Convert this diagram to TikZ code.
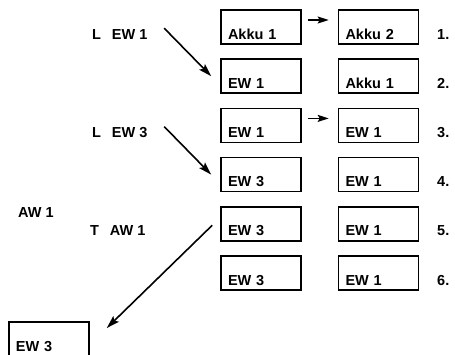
\documentclass[tikz,border=0pt]{standalone}
\usepackage{fontspec}
\setmainfont{Liberation Sans}
\usetikzlibrary{arrows.meta}
\begin{document}
\begin{tikzpicture}[x=1pt,y=-1pt,
  txt/.style={font=\fontsize{14.5}{16}\selectfont\bfseries},
  reg/.style={txt,draw,line width=1.6pt,inner xsep=7pt,inner ysep=0pt,text width=66pt,align=left,
    text height=24pt,text depth=0pt,minimum height=34pt},
  lbl/.style={txt,inner sep=0pt,anchor=base west},
  arr/.style={line width=1.6pt,-{Stealth[length=13pt,width=8pt,inset=2.5pt]}},
  sarr/.style={line width=1.6pt,-{Stealth[length=11pt,width=7pt,inset=2pt]}}]
\useasboundingbox (0,0) rectangle (455,354);
\clip (0,0) rectangle (455,354);
% rows
\foreach \i/\a/\b in {1/Akku 1/Akku 2,2/EW 1/Akku 1,3/EW 1/EW 1,4/EW 3/EW 1,5/EW 3/EW 1,6/EW 3/EW 1}{
  \node[reg] (b\i1) at (261,{27+49.2*(\i-1)}) {\a};
  \node[reg] (b\i2) at (378.5,{27+49.2*(\i-1)}) {\b};
  \node[lbl] (n\i) at (437,{39+49.2*(\i-1)}) {\i.};
}
\node[lbl] (l1) at (92,39) {L\hspace{0.75em}EW 1};
\node[lbl] (l3) at (92,137.4) {L\hspace{0.75em}EW 3};
\node[lbl] (l5) at (90,235.8) {T\hspace{0.75em}AW 1};
\node[lbl] (aw) at (18,217) {AW 1};
\node[reg] (b7) at (49,339) {EW 3};
% arrows
\draw[arr] ([xshift=-56pt,yshift=48pt]b21.west) -- ([xshift=-9pt]b21.west);
\draw[arr] ([xshift=-56pt,yshift=48pt]b41.west) -- ([xshift=-9pt]b41.west);
\draw[sarr,shorten <=6pt,shorten >=9pt] ([yshift=7pt]b11.east) -- ([yshift=7pt]b12.west);
\draw[sarr,shorten <=6pt,shorten >=9pt] ([yshift=7pt]b31.east) -- ([yshift=7pt]b32.west);
\draw[arr] ([xshift=-8pt,yshift=-1.5pt]b51.west) -- ([xshift=17pt,yshift=11pt]b7.east);
\end{tikzpicture}
\end{document}
